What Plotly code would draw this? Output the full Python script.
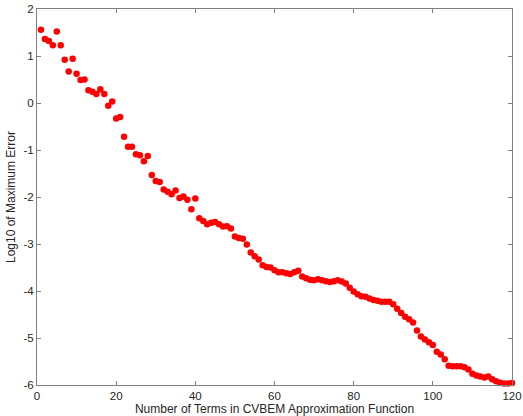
import plotly.graph_objects as go

n_terms = list(range(1, 121))
log10_max_error = [
    1.56, 1.36, 1.32, 1.23, 1.52, 1.23, 0.92, 0.67, 0.94, 0.62,
    0.49, 0.50, 0.27, 0.24, 0.19, 0.29, 0.19, -0.06, 0.03, -0.33,
    -0.30, -0.72, -0.93, -0.93, -1.09, -1.11, -1.24, -1.13, -1.53, -1.66,
    -1.68, -1.84, -1.89, -1.94, -1.86, -2.02, -1.99, -2.06, -2.26, -2.03,
    -2.45, -2.51, -2.58, -2.55, -2.53, -2.58, -2.63, -2.62, -2.67, -2.84,
    -2.87, -2.89, -3.01, -3.18, -3.26, -3.33, -3.45, -3.49, -3.50, -3.56,
    -3.60, -3.60, -3.62, -3.64, -3.60, -3.57, -3.69, -3.73, -3.76, -3.77,
    -3.75, -3.77, -3.79, -3.81, -3.79, -3.77, -3.80, -3.84, -3.93, -4.01,
    -4.07, -4.11, -4.12, -4.16, -4.19, -4.21, -4.23, -4.23, -4.23, -4.28,
    -4.38, -4.47, -4.55, -4.60, -4.67, -4.84, -4.97, -5.03, -5.09, -5.15,
    -5.29, -5.35, -5.45, -5.59, -5.60, -5.60, -5.60, -5.62, -5.67, -5.76,
    -5.80, -5.82, -5.84, -5.82, -5.88, -5.92, -5.95, -5.97, -5.97, -5.96,
]

x_ticks = [0, 20, 40, 60, 80, 100, 120]
x_tick_labels = ["0", "20", "40", "60", "80", "100", "120"]
y_ticks = [-6, -5, -4, -3, -2, -1, 0, 1, 2]
y_tick_labels = ["-6", "-5", "-4", "-3", "-2", "-1", "0", "1", "2"]

FONT = "Liberation Sans, Arial, sans-serif"

fig = go.Figure()
fig.add_trace(go.Scatter(
    x=n_terms, y=log10_max_error, mode="markers",
    marker=dict(color="#ff0000", size=6.5, line=dict(width=0)),
    cliponaxis=False, showlegend=False,
))

axis_common = dict(
    showline=True, linecolor="#808080", linewidth=1, mirror="ticks",
    ticks="inside", ticklen=4, tickcolor="#808080", tickwidth=1,
    showgrid=False, zeroline=False, automargin=False,
    tickfont=dict(family=FONT, size=11.5, color="#262626"),
)

fig.update_xaxes(
    range=[0, 120], tickvals=x_ticks, ticktext=x_tick_labels,
    title=dict(text="Number of Terms in CVBEM Approximation Function",
               font=dict(family=FONT, size=12, color="#262626"),
               standoff=0),
    **axis_common,
)
fig.update_yaxes(
    range=[-6, 2], tickvals=y_ticks, ticktext=y_tick_labels,
    title=dict(text="Log10 of Maximum Error",
               font=dict(family=FONT, size=12, color="#262626"),
               standoff=5),
    **axis_common,
)

fig.update_layout(
    width=523, height=416,
    margin=dict(l=37, r=11, t=9, b=31),
    plot_bgcolor="white", paper_bgcolor="white",
)

fig.write_html(
    "out.html",
    config={"displayModeBar": False},
    post_script="document.body.style.margin='0px';document.body.style.overflow='hidden';",
)
